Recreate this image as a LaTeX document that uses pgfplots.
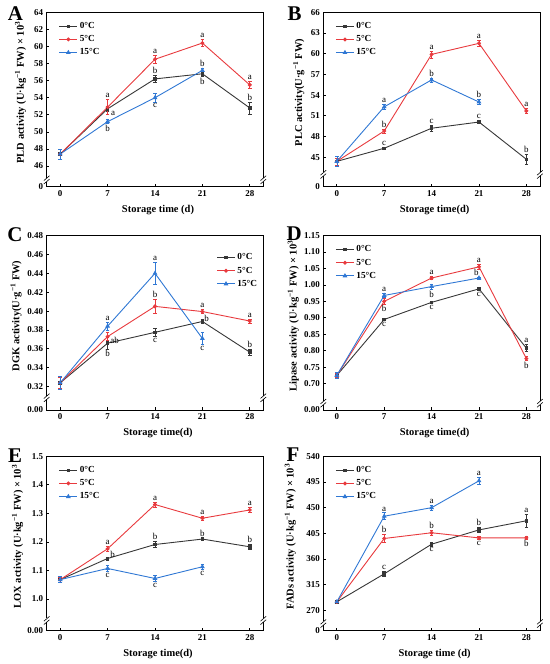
\documentclass[border=0pt]{standalone}
\usepackage{fontspec}
\setmainfont{Liberation Serif}
\usepackage{pgfplots}
\pgfplotsset{compat=1.18}
\definecolor{c0}{RGB}{55,55,55}
\definecolor{c5}{RGB}{232,58,62}
\definecolor{c15}{RGB}{48,120,212}
\newcommand{\ab}[3]{\node[font=\fontsize{9}{9}\selectfont, anchor=south, inner sep=0.5bp, yshift=1bp] at (axis cs:#1,#2) {#3};}
\newcommand{\bl}[3]{\node[font=\fontsize{9}{9}\selectfont, anchor=north, inner sep=0.5bp, yshift=-1bp] at (axis cs:#1,#2) {#3};}
\newcommand{\rt}[3]{\node[font=\fontsize{9}{9}\selectfont, anchor=west, inner sep=0.5bp] at (axis cs:#1,#2) {#3};}
\newcommand{\brk}[1]{%
 \fill[white] ([xshift=-1.4bp,yshift=-2.2bp]axis cs:-2,#1) rectangle ([xshift=1.4bp,yshift=1.6bp]axis cs:-2,#1);
 \draw[line width=0.6bp] ([xshift=-2.8bp,yshift=-4.6bp]axis cs:-2,#1) -- ([xshift=2.8bp,yshift=0.2bp]axis cs:-2,#1);
 \draw[line width=0.6bp] ([xshift=-2.8bp,yshift=-1.2bp]axis cs:-2,#1) -- ([xshift=2.8bp,yshift=3.6bp]axis cs:-2,#1);
 \fill[white] ([xshift=-1.4bp,yshift=-2.2bp]axis cs:30,#1) rectangle ([xshift=1.4bp,yshift=1.6bp]axis cs:30,#1);
 \draw[line width=0.6bp] ([xshift=-2.8bp,yshift=-4.6bp]axis cs:30,#1) -- ([xshift=2.8bp,yshift=0.2bp]axis cs:30,#1);
 \draw[line width=0.6bp] ([xshift=-2.8bp,yshift=-1.2bp]axis cs:30,#1) -- ([xshift=2.8bp,yshift=3.6bp]axis cs:30,#1);
}
\newcommand{\plet}[3]{\node[font=\fontsize{21}{21}\selectfont\bfseries, anchor=base west, inner sep=0pt, xshift=#2, yshift=#3] at (rel axis cs:0,1) {#1};}
\pgfplotsset{
  base/.style={
    scale only axis, width=216.6bp, height=174.4bp,
    xmin=-2, xmax=30, xtick={0,7,14,21,28},
    tick align=inside, tick pos=left,
    major tick length=2.5bp,
    every tick/.style={black, line width=0.7bp},
    axis line style={line width=0.8bp},
    ticklabel style={font=\fontsize{9}{10}\selectfont\bfseries},
    /pgf/number format/assume math mode=true,
    xlabel style={font=\fontsize{10.5}{12}\selectfont\bfseries, at={(axis description cs:0.5,0)}, anchor=center, yshift=-23.5bp, xshift=3bp},
    ylabel style={font=\fontsize{10.5}{12}\selectfont\bfseries, at={(axis description cs:0,0.54)}, anchor=center},
    clip=false,
    legend style={draw=none, fill=none, font=\fontsize{9.3}{10}\selectfont\bfseries, inner sep=0bp, row sep=1.5bp,
      at={(rel axis cs:0,1)}, anchor=north west, xshift=12bp, yshift=-8bp},
    legend cell align=left,
    legend image code/.code={\draw[mark repeat=2,mark phase=2] plot coordinates {(0bp,0bp) (9bp,0bp) (18bp,0bp)};},
  },
  eb/.style={line width=0.9bp, mark options={solid},
    error bars/y dir=both, error bars/y explicit,
    error bars/error bar style={line width=0.6bp},
    error bars/error mark options={mark size=1.8bp, line width=0.6bp, rotate=90}},
  s0/.style={eb, color=c0, mark=square*, mark size=1.3bp},
  s5/.style={eb, color=c5, mark=*, mark size=1.5bp},
  s15/.style={eb, color=c15, mark=triangle*, mark size=1.9bp},
}
\begin{document}
\begin{tikzpicture}
\path (0bp,0bp) rectangle (550bp,664bp);
% ---------------- A
\begin{axis}[base, at={(46.7bp,477.3bp)}, anchor=south west,
  ymin=43.58, ymax=64, ytick={43.58,46,48,50,52,54,56,58,60,62,64},
  yticklabels={0,46,48,50,52,54,56,58,60,62,64},
  xlabel={Storage time (d)}, ylabel={PLD activity (U·kg\textsuperscript{−1} FW) × 10\textsuperscript{3}},
  ylabel style={yshift=26bp}]
\addplot[s0] table[x=x,y=y,y error=e, row sep=\\]{x y e\\ 0 47.4 0.6\\ 7 52.7 0.3\\ 14 56.2 0.4\\ 21 56.8 0.3\\ 28 52.8 0.7\\};
\addplot[s5] table[x=x,y=y,y error=e, row sep=\\]{x y e\\ 0 47.4 0.6\\ 7 52.9 0.9\\ 14 58.5 0.5\\ 21 60.4 0.4\\ 28 55.5 0.4\\};
\addplot[s15] table[x=x,y=y,y error=e, row sep=\\]{x y e\\ 0 47.4 0.6\\ 7 51.2 0.25\\ 14 54.0 0.5\\ 21 57.2 0.3\\};
\legend{0°C,5°C,15°C}
\ab{7}{53.8}{a} \rt{7.4}{52.2}{a} \bl{7}{50.95}{b}
\ab{14}{59.0}{a} \ab{14}{56.6}{b} \bl{14}{53.5}{c}
\ab{21}{60.8}{a} \ab{21}{57.5}{b} \bl{21}{56.5}{b}
\ab{28}{55.9}{a} \ab{28}{53.5}{b}
\brk{44.44}
\plet{A}{-39bp}{-8.7bp}
\end{axis}
% ---------------- B
\begin{axis}[base, at={(323.3bp,477.3bp)}, anchor=south west,
  ymin=40.73, ymax=66, ytick={40.73,45,48,51,54,57,60,63,66},
  yticklabels={0,45,48,51,54,57,60,63,66},
  xlabel={Storage time(d)}, ylabel={PLC activity(U·g\textsuperscript{−1} FW)},
  ylabel style={yshift=24.5bp}]
\addplot[s0] table[x=x,y=y,y error=e, row sep=\\]{x y e\\ 0 44.4 0.5\\ 7 46.3 0.2\\ 14 49.2 0.4\\ 21 50.1 0.2\\ 28 44.7 0.7\\};
\addplot[s5] table[x=x,y=y,y error=e, row sep=\\]{x y e\\ 0 44.4 0.5\\ 7 48.8 0.3\\ 14 59.9 0.5\\ 21 61.5 0.4\\ 28 51.7 0.4\\};
\addplot[s15] table[x=x,y=y,y error=e, row sep=\\]{x y e\\ 0 44.4 0.7\\ 7 52.3 0.35\\ 14 56.2 0.3\\ 21 53.0 0.4\\};
\legend{0°C,5°C,15°C}
\ab{7}{52.65}{a} \ab{7}{49.1}{b} \ab{7}{46.5}{c}
\ab{14}{60.4}{a} \ab{14}{56.5}{b} \ab{14}{49.6}{c}
\ab{21}{61.9}{a} \ab{21}{53.4}{b} \ab{21}{50.3}{c}
\ab{28}{52.1}{a} \ab{28}{45.4}{b}
\brk{42.58}
\plet{B}{-36bp}{-8.7bp}
\end{axis}
% ---------------- C
\begin{axis}[base, at={(46.7bp,254bp)}, anchor=south west,
  ymin=0.2952, ymax=0.48, ytick={0.2952,0.32,0.34,0.36,0.38,0.40,0.42,0.44,0.46,0.48},
  yticklabels={0.00,0.32,0.34,0.36,0.38,0.40,0.42,0.44,0.46,0.48},
  xlabel={Storage time(d)}, ylabel={DGK activity(U·g\textsuperscript{−1} FW)},
  ylabel style={yshift=30.5bp},
  legend style={at={(rel axis cs:1,1)}, anchor=north east, xshift=-16bp, yshift=-8bp}]
\addplot[s0] table[x=x,y=y,y error=e, row sep=\\]{x y e\\ 0 0.324 0.006\\ 7 0.366 0.006\\ 14 0.3775 0.004\\ 21 0.389 0.002\\ 28 0.3565 0.003\\};
\addplot[s5] table[x=x,y=y,y error=e, row sep=\\]{x y e\\ 0 0.324 0.006\\ 7 0.373 0.004\\ 14 0.405 0.007\\ 21 0.3995 0.002\\ 28 0.3895 0.002\\};
\addplot[s15] table[x=x,y=y,y error=e, row sep=\\]{x y e\\ 0 0.324 0.007\\ 7 0.384 0.004\\ 14 0.440 0.012\\ 21 0.371 0.006\\};
\legend{0°C,5°C,15°C}
\ab{7}{0.388}{a} \rt{7.3}{0.369}{ab} \bl{7}{0.360}{b}
\ab{14}{0.452}{a} \ab{14}{0.412}{b} \bl{14}{0.3735}{c}
\ab{21}{0.4015}{a} \rt{21.2}{0.392}{b} \bl{21}{0.365}{c}
\ab{28}{0.3915}{a} \ab{28}{0.3595}{b}
\brk{0.3087}
\plet{C}{-39.6bp}{-5.7bp}
\end{axis}
% ---------------- D
\begin{axis}[base, at={(323.3bp,254bp)}, anchor=south west,
  ymin=0.6197, ymax=1.15, ytick={0.6197,0.70,0.75,0.80,0.85,0.90,0.95,1.00,1.05,1.10,1.15},
  yticklabels={0.00,0.70,0.75,0.80,0.85,0.90,0.95,1.00,1.05,1.10,1.15},
  xlabel={Storage time(d)}, ylabel={Lipase activity (U·kg\textsuperscript{−1} FW) × 10\textsuperscript{3}},
  ylabel style={yshift=30bp}]
\addplot[s0] table[x=x,y=y,y error=e, row sep=\\]{x y e\\ 0 0.725 0.006\\ 7 0.895 0.004\\ 14 0.947 0.004\\ 21 0.988 0.005\\ 28 0.808 0.01\\};
\addplot[s5] table[x=x,y=y,y error=e, row sep=\\]{x y e\\ 0 0.725 0.006\\ 7 0.950 0.008\\ 14 1.021 0.004\\ 21 1.055 0.009\\ 28 0.776 0.006\\};
\addplot[s15] table[x=x,y=y,y error=e, row sep=\\]{x y e\\ 0 0.725 0.008\\ 7 0.968 0.006\\ 14 0.995 0.008\\ 21 1.021 0.003\\};
\legend{0°C,5°C,15°C}
\ab{7}{0.974}{a} \bl{7}{0.942}{b} \bl{7}{0.891}{c}
\ab{14}{1.025}{a} \bl{14}{0.987}{b} \bl{14}{0.943}{c}
\ab{21}{1.064}{a} \ab{20.6}{1.024}{b} \bl{21}{0.983}{c}
\ab{28}{0.818}{a} \bl{28}{0.770}{b}
\brk{0.642}
\plet{D}{-37bp}{-5bp}
\end{axis}
% ---------------- E
\begin{axis}[base, at={(46.7bp,33.3bp)}, anchor=south west,
  ymin=0.889, ymax=1.5, ytick={0.889,1.0,1.1,1.2,1.3,1.4,1.5},
  yticklabels={0.00,1.0,1.1,1.2,1.3,1.4,1.5},
  xlabel={Storage time(d)}, ylabel={LOX activity (U·kg\textsuperscript{−1} FW) × 10\textsuperscript{3}},
  ylabel style={yshift=29bp}]
\addplot[s0] table[x=x,y=y,y error=e, row sep=\\]{x y e\\ 0 1.068 0.008\\ 7 1.142 0.005\\ 14 1.191 0.01\\ 21 1.21 0.004\\ 28 1.183 0.008\\};
\addplot[s5] table[x=x,y=y,y error=e, row sep=\\]{x y e\\ 0 1.068 0.008\\ 7 1.176 0.01\\ 14 1.331 0.008\\ 21 1.283 0.007\\ 28 1.312 0.008\\};
\addplot[s15] table[x=x,y=y,y error=e, row sep=\\]{x y e\\ 0 1.068 0.01\\ 7 1.107 0.01\\ 14 1.072 0.01\\ 21 1.113 0.01\\};
\legend{0°C,5°C,15°C}
\ab{7}{1.186}{a} \rt{7.3}{1.155}{b} \bl{7}{1.097}{c}
\ab{14}{1.339}{a} \ab{14}{1.201}{b} \bl{14}{1.062}{c}
\ab{21}{1.290}{a} \ab{21}{1.214}{b} \bl{21}{1.103}{c}
\ab{28}{1.320}{a} \ab{28}{1.191}{b}
\brk{0.9266}
\plet{E}{-38.8bp}{-6bp}
\end{axis}
% ---------------- F
\begin{axis}[base, at={(323.3bp,33.3bp)}, anchor=south west,
  ymin=234.4, ymax=540, ytick={234.4,270,315,360,405,450,495,540},
  yticklabels={0,270,315,360,405,450,495,540},
  xlabel={Storage time (d)}, ylabel={FADs activity (U·kg\textsuperscript{−1} FW) × 10\textsuperscript{3}},
  ylabel style={yshift=33bp}]
\addplot[s0] table[x=x,y=y,y error=e, row sep=\\]{x y e\\ 0 285 3\\ 7 334 5\\ 14 386 3\\ 21 411 4\\ 28 427 12\\};
\addplot[s5] table[x=x,y=y,y error=e, row sep=\\]{x y e\\ 0 285 3\\ 7 396 7\\ 14 406 5\\ 21 397 3\\ 28 397 2\\};
\addplot[s15] table[x=x,y=y,y error=e, row sep=\\]{x y e\\ 0 285 3\\ 7 435 6\\ 14 450 4\\ 21 497 6\\};
\legend{0°C,5°C,15°C}
\ab{7}{441}{a} \ab{7}{403}{b} \ab{7}{339}{c}
\ab{14}{454}{a} \ab{14}{411}{b} \bl{14}{383}{c}
\ab{21}{503}{a} \ab{21}{415}{b} \bl{21}{394}{c}
\ab{28}{439}{a} \bl{28}{395}{b}
\brk{247.8}
\plet{F}{-37bp}{-5bp}
\end{axis}
\end{tikzpicture}
\end{document}
